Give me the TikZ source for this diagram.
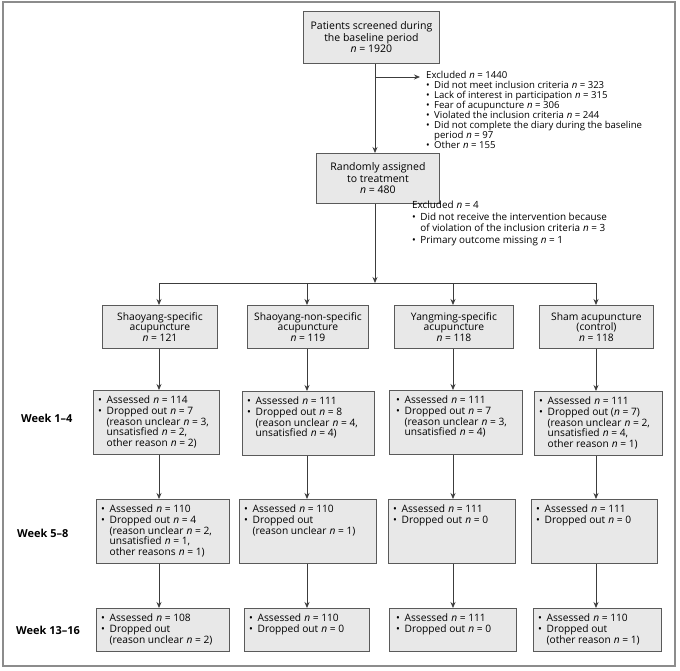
\documentclass[tikz,border=0pt]{standalone}
\usepackage{fontspec}
\setmainfont{Open Sans}
\usetikzlibrary{arrows.meta,calc}
\newcommand{\nv}{\hspace{0.3em}\textit{n}}
\newcommand{\bl}{\textbullet\hspace{0.45em}}
\newcommand{\ind}{\hphantom{\textbullet\hspace{0.45em}}}
\definecolor{boxfill}{HTML}{E8E8E8}
\definecolor{boxline}{HTML}{5A5A5A}
\definecolor{frameline}{HTML}{8C8C8C}
\definecolor{arrline}{HTML}{3C3C3C}
\begin{document}
\begin{tikzpicture}[x=1pt,y=-1pt,
  box/.style={draw=boxline, fill=boxfill, line width=0.9pt, inner sep=0pt, anchor=north west},
  head/.style={align=center, font=\fontsize{10.5}{11.4}\selectfont, inner sep=0pt},
  list/.style={align=left, font=\fontsize{10.2}{10.6}\selectfont, inner sep=0pt, anchor=north west},
  wk/.style={font=\fontsize{11}{12}\selectfont\bfseries, anchor=west, inner sep=0pt},
  arr/.style={draw=arrline, line width=0.8pt, -{Stealth[length=6pt,width=5pt]}},
  ln/.style={draw=arrline, line width=0.8pt}]
\useasboundingbox (0,0) rectangle (680,671);
\draw[frameline, line width=1.3pt] (3,2) rectangle (675,666);

% columns
\coordinate (main) at (375,77);
\coordinate (exarr) at (420,77);
\coordinate (bar) at (375,283);
\coordinate (c1) at (159,283);
\coordinate (c2) at (307,283);
\coordinate (c3) at (453,283);
\coordinate (c4) at (596,283);

% top box
\node[box, minimum width=136, minimum height=52] (top) at (303,11) {};
\node[head] (toptext) at (top.center) {Patients screened during\\the baseline period\\\textit{n} = 1920};

\node[list, font=\fontsize{9.6}{10}\selectfont] (excl) at (426,71) {Excluded\nv{} = 1440\\
\bl Did not meet inclusion criteria\nv{} = 323\\
\bl Lack of interest in participation\nv{} = 315\\
\bl Fear of acupuncture\nv{} = 306\\
\bl Violated the inclusion criteria\nv{} = 244\\
\bl Did not complete the diary during the baseline\\
\ind period\nv{} = 97\\
\bl Other\nv{} = 155};

% random box
\node[box, minimum width=123, minimum height=50] (rand) at (316,153) {};
\node[head] (randtext) at (rand.center) {Randomly assigned\\to treatment\\\textit{n} = 480};

\node[list, font=\fontsize{9.9}{11.6}\selectfont] (excl2) at (412,201) {Excluded\nv{} = 4\\
\bl Did not receive the intervention because\\
\ind of violation of the inclusion criteria\nv{} = 3\\
\bl Primary outcome missing\nv{} = 1};

\draw[arr] (top.south -| main) -- (rand.north -| main);
\draw[arr] (main) -- (exarr);
\draw[arr] (rand.south -| main) -- (bar);
\draw[ln] (c1) -- (c4);

% arm boxes
\node[box, minimum width=115, minimum height=43] (a1) at (102,305) {};
\node[box, minimum width=121, minimum height=43] (a2) at (247,305) {};
\node[box, minimum width=119, minimum height=43] (a3) at (394,305) {};
\node[box, minimum width=114, minimum height=43] (a4) at (539,305) {};
\node[head, font=\fontsize{10.3}{10.8}\selectfont] (a1t) at (a1.center) {Shaoyang-specific\\acupuncture\\\textit{n} = 121};
\node[head, font=\fontsize{10.3}{10.8}\selectfont] (a2t) at (a2.center) {Shaoyang-non-specific\\acupuncture\\\textit{n} = 119};
\node[head, font=\fontsize{10.3}{10.8}\selectfont] (a3t) at (a3.center) {Yangming-specific\\acupuncture\\\textit{n} = 118};
\node[head, font=\fontsize{10.3}{10.8}\selectfont] (a4t) at (a4.center) {Sham acupuncture\\(control)\\\textit{n} = 118};

\foreach \c/\a in {c1/a1,c2/a2,c3/a3,c4/a4}{
  \draw[arr] (\c) -- (\a.north -| \c);
}

% week 1-4
\node[wk] (wk1) at (21,418) {Week 1–4};
\node[box, minimum width=126, minimum height=64] (b1) at (93,390) {};
\node[box, minimum width=132, minimum height=64] (b2) at (242,391) {};
\node[box, minimum width=133, minimum height=64] (b3) at (389,390) {};
\node[box, minimum width=128, minimum height=64] (b4) at (534,391) {};
\node[list] (b1t) at ([shift={(5,6)}]b1.north west) {\bl Assessed\nv{} = 114\\\bl Dropped out\nv{} = 7\\\ind(reason unclear\nv{} = 3,\\\ind unsatisfied\nv{} = 2,\\\ind other reason\nv{} = 2)};
\node[list] (b2t) at ([shift={(5,6)}]b2.north west) {\bl Assessed\nv{} = 111\\\bl Dropped out\nv{} = 8\\\ind(reason unclear\nv{} = 4,\\\ind unsatisfied\nv{} = 4)};
\node[list] (b3t) at ([shift={(7,6)}]b3.north west) {\bl Assessed\nv{} = 111\\\bl Dropped out\nv{} = 7\\\ind(reason unclear\nv{} = 3,\\\ind unsatisfied\nv{} = 4)};
\node[list] (b4t) at ([shift={(5,6)}]b4.north west) {\bl Assessed\nv{} = 111\\\bl Dropped out (\textit{n} = 7)\\\ind(reason unclear\nv{} = 2,\\\ind unsatisfied\nv{} = 4,\\\ind other reason\nv{} = 1)};

\draw[arr] (a1.south -| c1) -- (b1.north -| c1);
\draw[arr] (a2.south -| c2) -- (b2.north -| c2);
\draw[arr] (a3.south -| c3) -- (b3.north -| c3);
\draw[arr] (a4.south -| c4) -- (b4.north -| c4);

% week 5-8
\node[wk] (wk2) at (17,533) {Week 5–8};
\node[box, minimum width=133, minimum height=64] (d1) at (96,499) {};
\node[box, minimum width=137, minimum height=64] (d2) at (239,499) {};
\node[box, minimum width=127, minimum height=64] (d3) at (388,499) {};
\node[box, minimum width=126, minimum height=64] (d4) at (531,499) {};
\node[list] (d1t) at ([shift={(5,6)}]d1.north west) {\bl Assessed\nv{} = 110\\\bl Dropped out\nv{} = 4\\\ind(reason unclear\nv{} = 2,\\\ind unsatisfied\nv{} = 1,\\\ind other reasons\nv{} = 1)};
\node[list] (d2t) at ([shift={(5,6)}]d2.north west) {\bl Assessed\nv{} = 110\\\bl Dropped out\\\ind(reason unclear\nv{} = 1)};
\node[list] (d3t) at ([shift={(5,6)}]d3.north west) {\bl Assessed\nv{} = 111\\\bl Dropped out\nv{} = 0};
\node[list] (d4t) at ([shift={(5,6)}]d4.north west) {\bl Assessed\nv{} = 111\\\bl Dropped out\nv{} = 0};

\draw[arr] (b1.south -| c1) -- (d1.north -| c1);
\draw[arr] (b2.south -| c2) -- (d2.north -| c2);
\draw[arr] (b3.south -| c3) -- (d3.north -| c3);
\draw[arr] (b4.south -| c4) -- (d4.north -| c4);

% week 13-16
\node[wk] (wk3) at (16,630) {Week 13–16};
\node[box, minimum width=133, minimum height=43] (e1) at (96,608) {};
\node[box, minimum width=125, minimum height=43] (e2) at (244,608) {};
\node[box, minimum width=127, minimum height=43] (e3) at (389,608) {};
\node[box, minimum width=128, minimum height=43] (e4) at (533,608) {};
\node[list] (e1t) at ([shift={(5,6)}]e1.north west) {\bl Assessed\nv{} = 108\\\bl Dropped out\\\ind(reason unclear\nv{} = 2)};
\node[list] (e2t) at ([shift={(5,6)}]e2.north west) {\bl Assessed\nv{} = 110\\\bl Dropped out\nv{} = 0};
\node[list] (e3t) at ([shift={(7,6)}]e3.north west) {\bl Assessed\nv{} = 111\\\bl Dropped out\nv{} = 0};
\node[list] (e4t) at ([shift={(5,6)}]e4.north west) {\bl Assessed\nv{} = 110\\\bl Dropped out\\\ind(other reason\nv{} = 1)};

\draw[arr] (d1.south -| c1) -- (e1.north -| c1);
\draw[arr] (d2.south -| c2) -- (e2.north -| c2);
\draw[arr] (d3.south -| c3) -- (e3.north -| c3);
\draw[arr] (d4.south -| c4) -- (e4.north -| c4);
\end{tikzpicture}
\end{document}
